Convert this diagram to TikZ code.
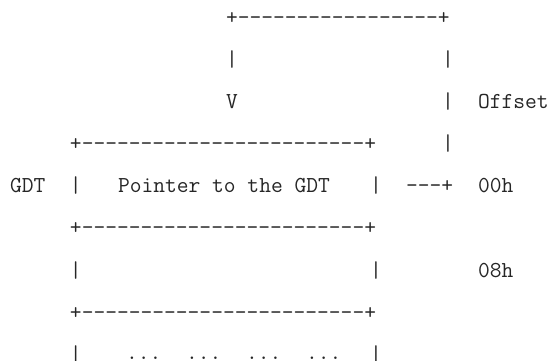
\documentclass[tikz,border=0pt]{standalone}
\usepackage{fontspec}
\newcommand\dsh[1]{\foreach\i in {1,...,#1}{-{}}}
\newcommand\asc[4]{\node[txt] (#1) at ({10+12*#2},{-(25+42*(#3-1))}) {#4};}
\begin{document}
\begin{tikzpicture}[x=1pt,y=1pt,
  txt/.style={anchor=base west,inner sep=0pt,outer sep=0pt,text=black!85,
    font=\ttfamily\fontsize{22.857}{27}\selectfont}]
\useasboundingbox (0,0) rectangle (550,-361);
% row 1
\asc{topline}{18}{1}{+\dsh{17}+}
% row 2
\asc{r2a}{18}{2}{|}
\asc{r2b}{36}{2}{|}
% row 3
\asc{arrowV}{18}{3}{V}
\asc{r3b}{36}{3}{|}
\asc{offset}{39}{3}{Offset}
% row 4
\asc{r4a}{5}{4}{+\dsh{24}+}
\asc{r4b}{36}{4}{|}
% row 5
\asc{gdt}{0}{5}{GDT}
\asc{r5b}{5}{5}{|}
\asc{pointer}{9}{5}{Pointer to the GDT}
\asc{r5d}{30}{5}{|}
\asc{r5e}{33}{5}{\dsh{3}+}
\asc{h00}{39}{5}{00h}
% row 6
\asc{r6a}{5}{6}{+\dsh{24}+}
% row 7
\asc{r7a}{5}{7}{|}
\asc{r7b}{30}{7}{|}
\asc{h08}{39}{7}{08h}
% row 8
\asc{r8a}{5}{8}{+\dsh{24}+}
% row 9
\asc{r9a}{5}{9}{|}
\asc{d1}{9.67}{8.96}{...}
\asc{d2}{14.67}{8.96}{...}
\asc{d3}{19.67}{8.96}{...}
\asc{d4}{24.67}{8.96}{...}
\asc{r9b}{30}{9}{|}
\end{tikzpicture}
\end{document}
